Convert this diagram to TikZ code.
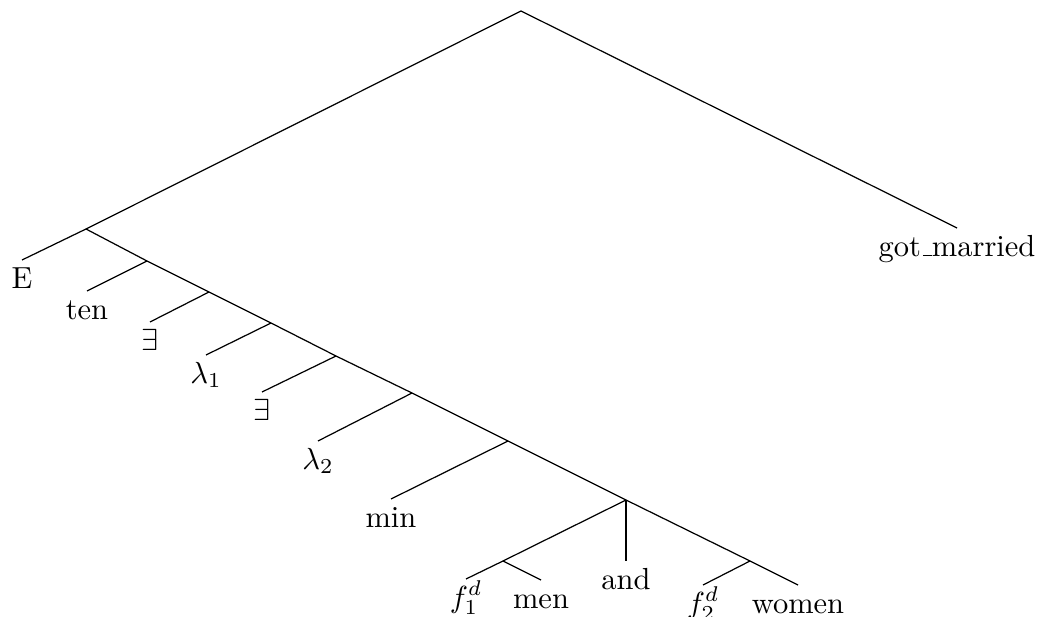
\documentclass[tikz,border=0pt]{standalone}
\begin{document}
\begin{tikzpicture}[x=0.328pt,y=-0.328pt,
  edge/.style={line width=0.4pt},
  leaf/.style={anchor=north,inner sep=0pt,outer sep=0pt,text height=9.2pt,text depth=2pt}]
\useasboundingbox (0,0) rectangle (1039,617);
% inner branching points
\coordinate (root) at (521,11);
\coordinate (a) at (86,229);
\coordinate (b1) at (147,261);
\coordinate (b2) at (209,292);
\coordinate (b3) at (271,323);
\coordinate (b4) at (336,356);
\coordinate (b5) at (412,393);
\coordinate (b6) at (508,441);
\coordinate (b7) at (626,500);
\coordinate (d) at (503,561);
\coordinate (f) at (750,561);
% leaves
\node[leaf] (gm) at (957,228) {got\kern.06em\vbox{\hrule width.3em}married};
\node[leaf] (E) at (22,260) {E};
\node[leaf] (ten) at (87,291) {ten};
\node[leaf] (ex1) at (150,322) {$\exists$};
\node[leaf] (lam1) at (206,355) {$\lambda_1$};
\node[leaf] (ex2) at (262,392) {$\exists$};
\node[leaf] (lam2) at (318,441) {$\lambda_2$};
\node[leaf] (min) at (391,499) {min};
\node[leaf] (and) at (626,561) {and};
\node[leaf] (f1) at (466,579) {$f_1^d$};
\node[leaf] (men) at (541,580) {men};
\node[leaf] (f2) at (703,585) {$f_2^d$};
\node[leaf] (women) at (798,585) {women};
% branches
\draw[edge] (gm.north) -- (root) -- (a);
\draw[edge] (a) -- (E.north);
\draw[edge] (a) -- (b1) -- (b2) -- (b3) -- (b4) -- (b5) -- (b6) -- (b7);
\draw[edge] (b1) -- (ten.north);
\draw[edge] (b2) -- (ex1.north);
\draw[edge] (b3) -- (lam1.north);
\draw[edge] (b4) -- (ex2.north);
\draw[edge] (b5) -- (lam2.north);
\draw[edge] (b6) -- (min.north);
\draw[edge] (b7) -- (d);
\draw[edge] (b7) -- (and.north);
\draw[edge] (b7) -- (f);
\draw[edge] (d) -- (f1.north);
\draw[edge] (d) -- (men.north);
\draw[edge] (f) -- (f2.north);
\draw[edge] (f) -- (women.north);
\end{tikzpicture}
\end{document}
